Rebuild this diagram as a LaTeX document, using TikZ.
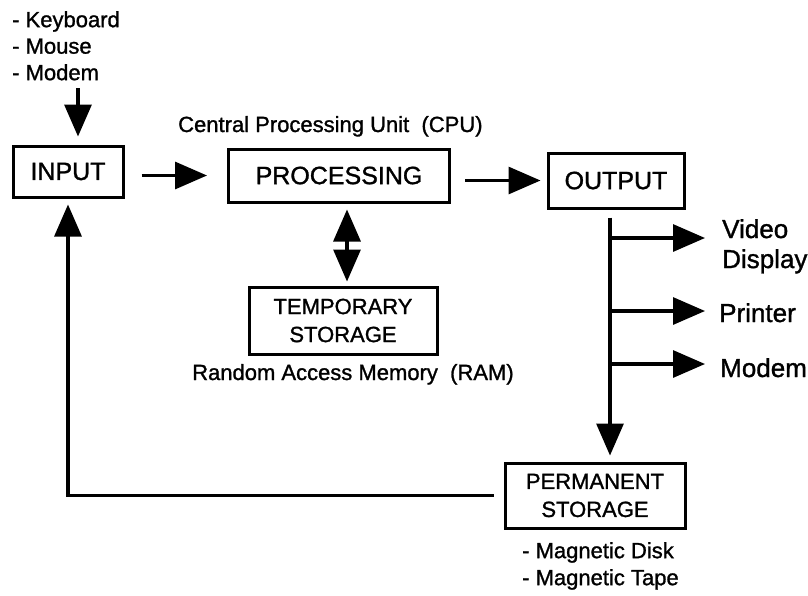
\documentclass[tikz,border=0pt]{standalone}
\usepackage{fontspec}
\setmainfont{Liberation Sans}[FakeBold=1.2]
\usetikzlibrary{arrows.meta,calc}
\begin{document}
\begin{tikzpicture}[x=1pt,y=-1pt,
  box/.style={draw, line width=3pt, inner sep=0pt, align=center},
  bigtxt/.style={font=\fontsize{25pt}{30pt}\selectfont},
  midtxt/.style={font=\fontsize{22pt}{28pt}\selectfont},
  outtxt/.style={font=\fontsize{26pt}{30pt}\selectfont},
  lbl/.style={inner sep=0pt},
  arr/.style={line width=3.2pt, -{Triangle[length=32pt,width=27pt]}},
  darr/.style={line width=3.2pt, {Triangle[length=32pt,width=27pt]}-{Triangle[length=32pt,width=27pt]}}
]
\useasboundingbox (0,0) rectangle (808,595);

% boxes
\node[box, bigtxt, minimum width=110pt, minimum height=51pt] (input) at (68,171.5) {INPUT};
\node[box, bigtxt, minimum width=221pt, minimum height=53pt] (proc) at (339,175.5) {PROCESSING};
\node[box, bigtxt, minimum width=136pt, minimum height=55pt] (output) at (616,180.5) {OUTPUT};
\node[box, midtxt, minimum width=188pt, minimum height=67pt] (temp) at (343,320.5) {TEMPORARY\\STORAGE};
\node[box, midtxt, minimum width=180pt, minimum height=65pt] (perm) at (595,495.5) {PERMANENT\\STORAGE};

% labels
\node[lbl, align=left, anchor=north west, font=\fontsize{22pt}{26.5pt}\selectfont] (inlist) at (12,11) {- Keyboard\\- Mouse\\- Modem};
\node[lbl, midtxt, anchor=base west] (cpu) at (178,132) {Central Processing Unit~~(CPU)};
\node[lbl, midtxt, anchor=base west] (ram) at (192,380) {Random Access Memory~~(RAM)};
\node[lbl, outtxt, align=left, anchor=north west] (video) at (722,219) {Video\\Display};
\node[lbl, outtxt, anchor=base west] (printer) at (719,322) {Printer};
\node[lbl, outtxt, anchor=base west] (modem) at (720,377) {Modem};
\node[lbl, align=left, anchor=north west, font=\fontsize{22pt}{27pt}\selectfont] (mag) at (522,542) {- Magnetic Disk\\- Magnetic Tape};

% connectors
\coordinate (kbarrow) at (78,88);
\draw[arr, shorten >=8pt] (kbarrow) -- (kbarrow |- input.north);
\draw[arr, shorten <=17pt, shorten >=20pt] (input.east |- proc.west) -- (proc.west);
\draw[arr, shorten <=14pt, shorten >=6pt] (proc.east |- output.west) -- (output.west);
\coordinate (dx) at (347,0);
\draw[darr, shorten <=6pt, shorten >=4pt] (dx |- proc.south) -- (dx |- temp.north);
\coordinate (trunk) at (610,0);
\draw[arr, shorten <=8pt, shorten >=6pt] (trunk |- output.south) -- (trunk |- perm.north);
\coordinate (b1) at (610,238);
\coordinate (b2) at (610,311);
\coordinate (b3) at (610,364);
\draw[arr, shorten >=17pt] (b1) -- (b1 -| video.west);
\draw[arr, shorten >=14pt] (b2) -- (b2 -| printer.west);
\draw[arr, shorten >=15pt] (b3) -- (b3 -| modem.west);
\draw[arr, shorten <=10pt, shorten >=6pt] (perm.west) -| (input.south);
\end{tikzpicture}
\end{document}
